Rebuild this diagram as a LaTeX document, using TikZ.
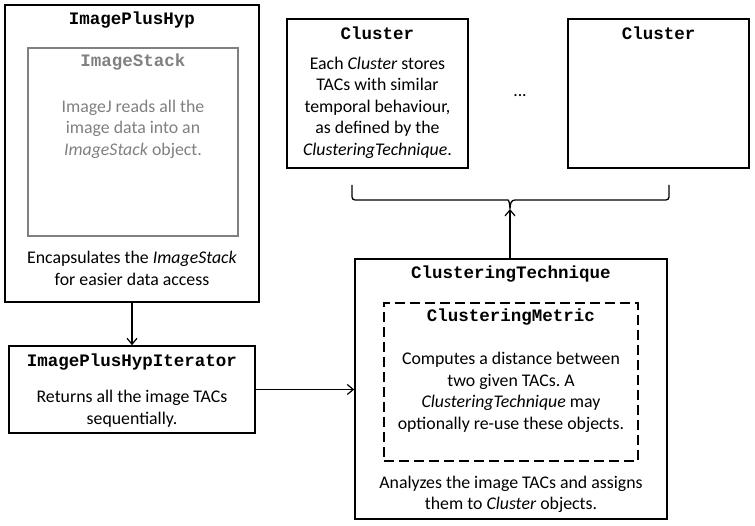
\documentclass[tikz,border=0pt]{standalone}
\usepackage{fontspec}
\setmainfont{Carlito}
\setmonofont{Liberation Mono}
\usetikzlibrary{arrows.meta}
\definecolor{stackgray}{HTML}{808080}
\frenchspacing
\begin{document}
\begin{tikzpicture}[x=1pt,y=-1pt,
  box/.style n args={2}{draw, line width=1.6pt, inner sep=0pt, minimum width=#1, minimum height=#2},
  title/.style={font=\fontsize{17.5}{20}\selectfont\ttfamily\bfseries, inner sep=0pt},
  body/.style={font=\fontsize{17.8}{21.5}\selectfont, align=center, inner sep=0pt},
  conn/.style={line width=1.3pt, -{Straight Barb[length=6pt,width=10pt,line width=1.2pt]}}]
\useasboundingbox (0,0) rectangle (755,526);
% boxes
\node[box={254pt}{297pt}] (iph) at (132,153.5) {};
\node[box={210pt}{188pt}, draw=stackgray, line width=2pt] (stack) at (133,142) {};
\node[box={246pt}{87pt}] (iter) at (132,389.5) {};
\node[box={312pt}{260pt}] (tech) at (511,389) {};
\node[box={254pt}{158pt}, dash pattern=on 10pt off 5pt] (metric) at (511,382) {};
\node[box={181pt}{149pt}] (c1) at (377.5,93.5) {};
\node[box={181pt}{149pt}] (c2) at (658.5,93.5) {};
% titles
\node[title] (tiph) at (132,20) {ImagePlusHyp};
\node[title, text=stackgray] (tstack) at (133,62) {ImageStack};
\node[title] (titer) at (132,362) {ImagePlusHypIterator};
\node[title] (ttech) at (511,274) {ClusteringTechnique};
\node[title] (tmetric) at (511,317) {ClusteringMetric};
\node[title] (tc1) at (377.5,33) {Cluster};
\node[title] (tc2) at (658.5,33) {Cluster};
% bodies
\node[body, text=stackgray] (bstack) at (133,129) {ImageJ reads all the\\image data into an\\\textit{ImageStack} object.};
\node[body] (biph) at (132,268.5) {Encapsulates the \textit{ImageStack}\\for easier data access};
\node[body] (biter) at (132,409) {Returns all the image TACs\\sequentially.};
\node[body] (bmetric) at (511,392.5) {Computes a distance between\\two given TACs. A\\\textit{ClusteringTechnique} may\\optionally re-use these objects.};
\node[body] (btech) at (511,494.5) {Analyzes the image TACs and assigns\\them to \textit{Cluster} objects.};
\node[body] (bc1) at (377.5,107.5) {Each \textit{Cluster} stores\\TACs with similar\\temporal behaviour,\\as defined by the\\\textit{ClusteringTechnique}.};
\node[body, anchor=base] (dots) at (520,97) {...};
% brace
\coordinate (brl) at (352,185);
\coordinate (brr) at (669,185);
\coordinate (brtip) at (510,209);
\draw[line width=1.3pt, rounded corners=3pt] (brl) |- (505,200) [sharp corners] .. controls (508.5,200) and (510,203) .. (brtip) .. controls (510,203) and (511.5,200) .. (515,200) [rounded corners=3pt] -| (brr);
% connectors
\draw[conn] (iph.south) -- (iter.north);
\draw[conn] (iter.east) -- (iter.east -| tech.west);
\draw[conn] (tech.north -| brtip) -- (brtip);
\end{tikzpicture}
\end{document}
